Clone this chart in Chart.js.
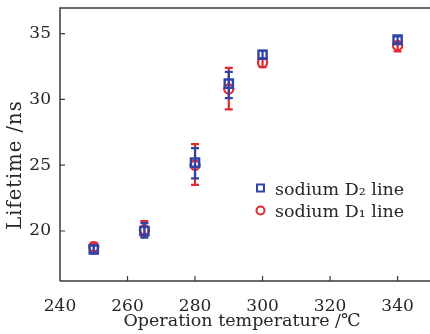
<!DOCTYPE html>
<html>
<head>
<meta charset="utf-8">
<script src="https://cdn.jsdelivr.net/npm/chart.js@4.4.0/dist/chart.umd.min.js"></script>
<style>
html,body{margin:0;padding:0;background:#fff;}
#wrap{width:430px;height:334px;position:relative;}
</style>
</head>
<body>
<div id="wrap"><canvas id="c" width="430" height="334"></canvas></div>
<script>
// ---- data ----
const temperatures = [250, 265, 280, 290, 300, 340];
const d2Lifetime = [18.6, 20.0, 25.2, 31.2, 33.4, 34.55];
const d2Low      = [18.3, 19.5, 24.0, 30.1, 33.1, 34.2];
const d2High     = [18.9, 20.6, 26.3, 32.1, 33.7, 34.8];
const d1Lifetime = [18.8, 20.1, 25.0, 30.8, 32.8, 34.1];
const d1Low      = [18.45, 19.6, 23.5, 29.25, 32.45, 33.65];
const d1High     = [19.1, 20.75, 26.6, 32.4, 33.1, 34.35];
const xTicks = [240, 260, 280, 300, 320, 340];
const yTicks = [20, 25, 30, 35];
const seriesNames = ['sodium D\u2082 line', 'sodium D\u2081 line'];
const xTitle = 'Operation temperature /\u2103';
const yTitle = 'Lifetime /ns';

const BLUE = '#2f44a6';
const RED = '#df2a30';
const TXT = '#262626';
const FONT = '"DejaVu Serif", "Liberation Serif", serif';

function toPts(xs, ys){ return xs.map((x,i)=>({x:x, y:ys[i]})); }

const errorSets = [
  {lo:d2Low, hi:d2High, color:BLUE, cap:4},
  {lo:d1Low, hi:d1High, color:RED, cap:4}
];

const errorBars = {
  id:'errorBars',
  beforeDatasetDraw(chart, args){
    const e = errorSets[args.index];
    if(!e) return;
    const xs = chart.scales.x, ys = chart.scales.y, ctx = chart.ctx;
    ctx.save();
    ctx.strokeStyle = e.color;
    ctx.lineWidth = 2.2;
    temperatures.forEach((t,i)=>{
      const px = xs.getPixelForValue(t);
      const y1 = ys.getPixelForValue(e.lo[i]);
      const y2 = ys.getPixelForValue(e.hi[i]);
      ctx.beginPath();
      ctx.moveTo(px, y1); ctx.lineTo(px, y2);
      ctx.moveTo(px-e.cap, y1); ctx.lineTo(px+e.cap, y1);
      ctx.moveTo(px-e.cap, y2); ctx.lineTo(px+e.cap, y2);
      ctx.stroke();
    });
    ctx.restore();
  }
};

const frame = {
  id:'frame',
  afterDraw(chart){
    const ctx = chart.ctx, a = chart.chartArea;
    const xs = chart.scales.x, ys = chart.scales.y;
    ctx.save();
    ctx.strokeStyle = '#3a3a3a';
    ctx.lineWidth = 1.5;
    ctx.beginPath();
    ctx.moveTo(a.left, a.bottom); ctx.lineTo(a.left, a.top); ctx.lineTo(a.right, a.top);
    ctx.moveTo(a.left, a.bottom); ctx.lineTo(a.right, a.bottom);
    ctx.stroke();
    ctx.lineWidth = 1.2;
    ctx.beginPath();
    xTicks.forEach(v=>{ const p = xs.getPixelForValue(v); if(p>a.left+1){ctx.moveTo(p,a.bottom); ctx.lineTo(p,a.bottom-5);} });
    yTicks.forEach(v=>{ const p = ys.getPixelForValue(v); ctx.moveTo(a.left,p); ctx.lineTo(a.left+5,p); });
    ctx.stroke();
    // axis titles
    ctx.fillStyle = TXT;
    ctx.font = '17.5px ' + FONT;
    ctx.textAlign = 'center';
    ctx.textBaseline = 'middle';
    ctx.fillText(xTitle, 242, 321);
    ctx.save();
    ctx.translate(16, 165);
    ctx.rotate(-Math.PI/2);
    ctx.font = '19.5px ' + FONT;
    ctx.letterSpacing = '1px';
    ctx.fillText(yTitle, 0, 0);
    ctx.restore();
    // legend
    const items = [
      {name:seriesNames[0], color:BLUE, style:'rect', y:188},
      {name:seriesNames[1], color:RED, style:'circle', y:210.5}
    ];
    items.forEach(it=>{
      ctx.strokeStyle = it.color;
      ctx.lineWidth = 2;
      ctx.beginPath();
      if(it.style==='rect'){ ctx.rect(257, it.y-3.5, 7, 7); }
      else { ctx.arc(260.5, it.y, 4, 0, Math.PI*2); }
      ctx.stroke();
      ctx.fillStyle = TXT;
      ctx.textAlign = 'left';
      ctx.textBaseline = 'alphabetic';
      ctx.font = '17.5px ' + FONT;
      ctx.fillText(it.name, 275, it.y+6.5);
    });
    ctx.restore();
  }
};

new Chart(document.getElementById('c'), {
  type:'scatter',
  data:{
    datasets:[
      {label:seriesNames[0], data:toPts(temperatures, d2Lifetime), pointStyle:'rect', pointRadius:5.8,
       borderColor:BLUE, backgroundColor:'rgba(0,0,0,0)', borderWidth:2.4, showLine:false},
      {label:seriesNames[1], data:toPts(temperatures, d1Lifetime), pointStyle:'circle', pointRadius:4.6,
       borderColor:RED, backgroundColor:'rgba(0,0,0,0)', borderWidth:2.2, showLine:false}
    ]
  },
  options:{
    responsive:false,
    animation:false,
    events:[],
    layout:{autoPadding:false, padding:{top:8, right:0, left:0, bottom:0}},
    plugins:{legend:{display:false}, tooltip:{enabled:false}},
    scales:{
      x:{
        type:'linear', min:240, max:349.6,
        afterBuildTicks(s){ s.ticks = xTicks.map(v=>({value:v})); },
        afterFit(s){ s.height = 53; s.paddingLeft = 0; s.paddingRight = 0; },
        grid:{display:false},
        border:{display:false},
        ticks:{color:TXT, font:{family:FONT, size:17}, padding:7, maxRotation:0, autoSkip:false}
      },
      y:{
        type:'linear', min:16.2, max:36.95,
        afterBuildTicks(s){ s.ticks = yTicks.map(v=>({value:v})); },
        afterFit(s){ s.width = 60; s.paddingTop = 0; s.paddingBottom = 0; },
        grid:{display:false},
        border:{display:false},
        ticks:{color:TXT, font:{family:FONT, size:17}, padding:1}
      }
    }
  },
  plugins:[errorBars, frame]
});
</script>
</body>
</html>
